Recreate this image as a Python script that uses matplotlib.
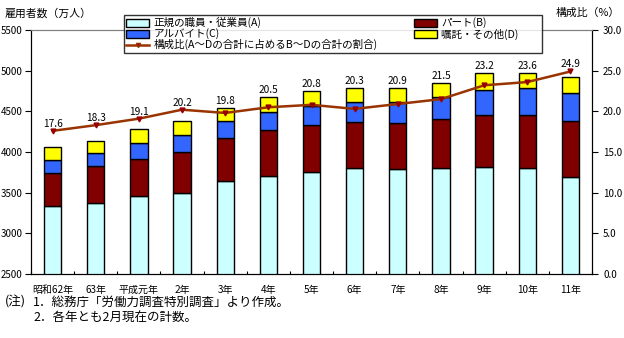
import numpy as np
import matplotlib.pyplot as plt
from matplotlib.lines import Line2D
from matplotlib.patches import Patch

plt.rcParams['font.family'] = ['Noto Sans CJK JP', 'DejaVu Sans']

# データ（万人）
nen = ['昭和62年', '63年', '平成元年', '2年', '3年', '4年', '5年',
       '6年', '7年', '8年', '9年', '10年', '11年']
seiki = [3340, 3377, 3455, 3492, 3639, 3709, 3758, 3807, 3787, 3799, 3811, 3799, 3689]
paato = [406, 447, 463, 504, 529, 558, 570, 558, 566, 603, 640, 652, 688]
arubaito = [152, 160, 189, 209, 209, 221, 233, 246, 258, 270, 307, 332, 345]
shokutaku = [160, 147, 172, 172, 160, 184, 185, 172, 172, 176, 213, 192, 196]
kouseihi = [17.6, 18.3, 19.1, 20.2, 19.8, 20.5, 20.8, 20.3, 20.9, 21.5, 23.2, 23.6, 24.9]

fig = plt.figure(figsize=(6.24, 3.38), dpi=100)
ax = fig.add_axes([31/624, 1 - 274/338, (592 - 31)/624, (274 - 30)/338])

x = np.arange(len(nen))
w = 0.40
iro = ['#CCFFFF', '#800000', '#3366FF', '#FFFF00']
bottom = np.zeros(len(nen))
for vals, c in zip([seiki, paato, arubaito, shokutaku], iro):
    ax.bar(x, vals, w, bottom=bottom, color=c, edgecolor='black', linewidth=1.0, zorder=2)
    bottom += np.array(vals)

ax.set_xlim(-0.5, len(nen) - 0.5)
ax.set_ylim(2500, 5500)
ax.set_yticks(np.arange(2500, 5501, 500))
ax.set_xticks(x)
ax.set_xticklabels(nen)
ax.set_xticks(np.arange(-0.5, len(nen), 1.0), minor=True)
ax.tick_params(axis='x', which='major', length=0, pad=8, labelsize=7.2)
ax.tick_params(axis='x', which='minor', direction='in', length=2, width=0.8)
ax.tick_params(axis='y', direction='out', length=4, width=0.8, pad=2, labelsize=7)
ax.spines['top'].set_color('#808080')

# 構成比（右軸）
ax2 = ax.twinx()
ax2.set_ylim(0, 30)
ax2.set_yticks(np.arange(0, 31, 5))
ax2.set_yticklabels([f'{v:.1f}' for v in np.arange(0, 31, 5)])
ax2.tick_params(axis='y', direction='out', length=4, width=0.8, pad=4, labelsize=7)
ax2.spines['top'].set_color('#808080')
ax2.plot(x, kouseihi, color='#993300', linewidth=1.8, marker='v', markersize=3.5,
         markerfacecolor='#990000', markeredgecolor='#990000', zorder=5)

top_pct = (bottom - 2500) / 100.0
for i, v in enumerate(kouseihi):
    yy = max(top_pct[i], v)
    ax2.annotate(f'{v:.1f}', (x[i], yy), xytext=(0, 1.5), textcoords='offset points',
                 ha='center', va='bottom', fontsize=7.3)

fig.text(5/624, 1 - 13/338, '雇用者数（万人）', fontsize=7.8, va='center', ha='left')
fig.text(620/624, 1 - 13/338, '構成比（%）', fontsize=7.8, va='center', ha='right')

handles = [Patch(facecolor=iro[0], edgecolor='black'),
           Patch(facecolor=iro[2], edgecolor='black'),
           Line2D([0], [0], color='#993300', linewidth=1.8, marker='v', markersize=3,
                  markerfacecolor='#990000'),
           Patch(facecolor=iro[1], edgecolor='black'),
           Patch(facecolor=iro[3], edgecolor='black')]
labels = ['正規の職員・従業員(A)', 'アルバイト(C)', '構成比(A～Dの合計に占めるB～Dの合計の割合)',
          'パート(B)', '嘱託・その他(D)　　']
leg = fig.legend(handles, labels, ncol=2, loc='upper left', bbox_to_anchor=(124/624, 1 - 15/338),
                 fontsize=7.6, frameon=True, fancybox=False, edgecolor='black',
                 borderpad=0.2, labelspacing=0.0, handlelength=2.2, handleheight=0.8,
                 handletextpad=0.4, columnspacing=3.4, borderaxespad=0)
leg.get_frame().set_linewidth(1.0)
leg.set_zorder(10)

fig.text(5/624, 1 - 302/338, '(注)', fontsize=9, va='center')
fig.text(33/624, 1 - 302/338, '1．総務庁「労働力調査特別調査」より作成。', fontsize=9, va='center')
fig.text(33/624, 1 - 318/338, '2．各年とも2月現在の計数。', fontsize=9, va='center')

fig.savefig('out.png', dpi=100)
